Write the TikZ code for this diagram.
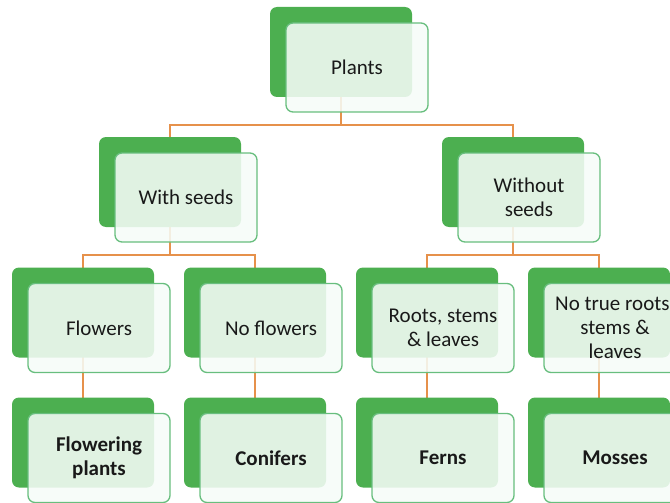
\documentclass[tikz,border=0pt]{standalone}
\usepackage{fontspec}
\setmainfont{Carlito}
\usetikzlibrary{backgrounds}
\definecolor{backg}{RGB}{76,175,80}
\definecolor{frontb}{RGB}{104,190,126}
\definecolor{frontf}{RGB}{246,252,248}
\definecolor{connc}{RGB}{230,145,75}
\begin{document}
\begin{tikzpicture}[x=1pt,y=-1pt,
  backbox/.style={fill=backg, rounded corners=7pt, minimum width=142pt, minimum height=90pt, inner sep=0pt},
  frontbox/.style={draw=frontb, line width=1.3pt, fill=frontf, fill opacity=0.87, text opacity=1, draw opacity=1, rounded corners=7pt, minimum width=142pt, minimum height=89pt, inner sep=0pt, align=center, font=\fontsize{21}{24}\selectfont, text=black!90},
  leafbox/.style={frontbox, font=\fontsize{21}{24}\selectfont\bfseries},
  connline/.style={draw=connc, line width=1.4pt}]
\useasboundingbox (0,0) rectangle (670,503);
\clip (0,0) rectangle (670,503);
\coordinate (bus1) at (0,125);
\coordinate (bus2) at (0,255);
% level 1
\node[backbox] (pb) at (341,52) {};
\node[frontbox] (pf) at (357,67.5) {Plants};
% level 2
\node[backbox] (wb) at (170,182) {};
\node[frontbox] (wf) at (186,197.5) {With seeds};
\node[backbox] (nb) at (513,182) {};
\node[frontbox] (nf) at (529,197.5) {Without\\seeds};
% level 3
\node[backbox] (flb) at (83,312.5) {};
\node[frontbox] (flf) at (99,328) {Flowers};
\node[backbox] (nfb) at (255,312.5) {};
\node[frontbox] (nff) at (271,328) {No flowers};
\node[backbox] (rsb) at (427,312.5) {};
\node[frontbox] (rsf) at (443,328) {Roots, stems\\\& leaves};
\node[backbox] (ntb) at (599,312.5) {};
\node[frontbox] (ntf) at (615,328) {No true roots,\\stems \&\\leaves};
% level 4
\node[backbox] (fpb) at (83,442.5) {};
\node[leafbox] (fpf) at (99,458) {Flowering\\plants};
\node[backbox] (cob) at (255,442.5) {};
\node[leafbox] (cof) at (271,458) {Conifers};
\node[backbox] (feb) at (427,442.5) {};
\node[leafbox] (fef) at (443,458) {Ferns};
\node[backbox] (mob) at (599,442.5) {};
\node[leafbox] (mof) at (615,458) {Mosses};
% connectors
\begin{scope}[on background layer]
\draw[connline] (pb.center) -- (pb.center |- bus1);
\draw[connline] (wb.center) -- (wb.center |- bus1) -| (nb.center);
\draw[connline] (wb.center) -- (wb.center |- bus2);
\draw[connline] (flb.center) -- (flb.center |- bus2) -| (nfb.center);
\draw[connline] (nb.center) -- (nb.center |- bus2);
\draw[connline] (rsb.center) -- (rsb.center |- bus2) -| (ntb.center);
\draw[connline] (flb.center) -- (fpb.center);
\draw[connline] (nfb.center) -- (cob.center);
\draw[connline] (rsb.center) -- (feb.center);
\draw[connline] (ntb.center) -- (mob.center);
\end{scope}
\end{tikzpicture}
\end{document}
